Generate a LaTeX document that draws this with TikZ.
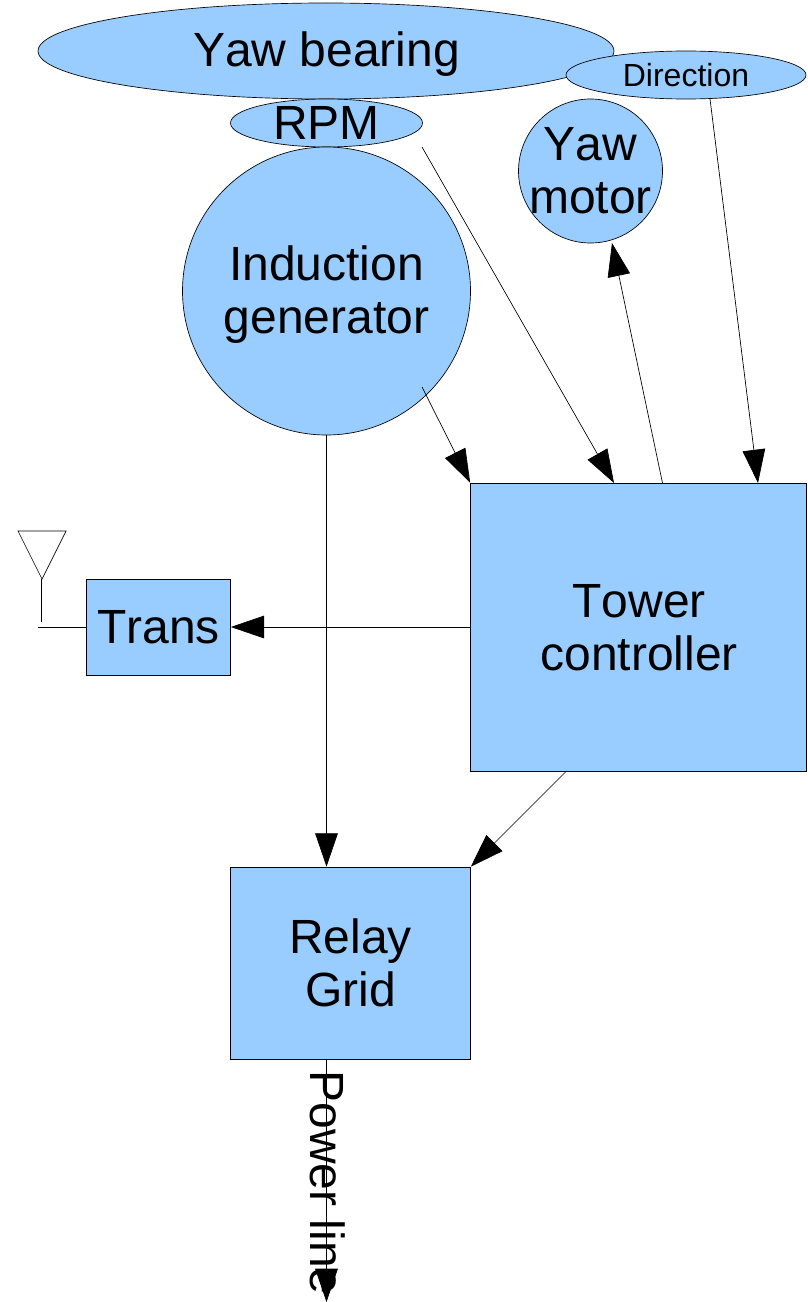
\documentclass[tikz,border=0pt]{standalone}
\usepackage{fontspec}
\setmainfont[Kerning=Off]{Liberation Sans}
\usetikzlibrary{shapes.geometric,arrows.meta}
\definecolor{fillblue}{HTML}{99CCFF}
\tikzset{
  px/.style={x=0.75pt,y=-0.75pt},
  shapebox/.style={draw=black,fill=fillblue,line width=0.5pt,inner sep=0pt},
  elli/.style={shapebox,ellipse},
  circ/.style={shapebox,circle},
  rect/.style={shapebox,rectangle},
  conn/.style={draw=black,line width=0.5pt,-{Triangle[length=25pt,width=17pt,fill=black]}},
  plain/.style={draw=black,line width=0.5pt},
  lab/.style={font=\fontsize{36pt}{40pt}\selectfont,align=center,inner sep=0pt},
  labsmall/.style={font=\fontsize{24pt}{28pt}\selectfont,align=center,inner sep=0pt},
}
\begin{document}
\begin{tikzpicture}[px]
\useasboundingbox (0,0) rectangle (807,1302);
% shapes with their texts
\node[elli,minimum width=432pt,minimum height=72pt,label={[lab,name=yawt,yshift=-2.5pt,xshift=0.5pt]center:Yaw bearing}] (yaw) at (326,51) {};
\node[elli,minimum width=144pt,minimum height=36pt,label={[lab,name=rpmt]center:RPM}] (rpm) at (326.5,123) {};
\node[elli,minimum width=180pt,minimum height=36pt,label={[labsmall,name=dirt]center:Direction}] (dir) at (686,75) {};
\node[circ,minimum size=108pt,label={[lab,name=ymt]center:Yaw\\motor}] (ym) at (590.5,171) {};
\node[circ,minimum size=216pt,label={[lab,name=gent,yshift=-2.5pt]center:Induction\\generator}] (gen) at (326.5,291) {};
\node[rect,minimum width=252pt,minimum height=216pt,label={[lab,name=tct,yshift=-0.5pt,xshift=0.5pt]center:Tower\\controller}] (tc) at (638.5,627) {};
\node[rect,minimum width=108pt,minimum height=72pt,label={[lab,name=trt]center:Trans}] (tr) at (158.5,627) {};
\node[rect,minimum width=180pt,minimum height=144pt,label={[lab,name=rgt]center:Relay\\Grid}] (rg) at (350.5,963) {};
% connector end points
\coordinate (a1) at (422,147);
\coordinate (a2) at (614,483);
\coordinate (b1) at (710,99);
\coordinate (b2) at (758,483);
\coordinate (c1) at (662.5,483);
\coordinate (c2) at (612,243);
\coordinate (d1) at (422,387);
\coordinate (f1) at (566.5,771);
\coordinate (h1) at (326.5,1059);
\coordinate (h2) at (326.5,1302);
\draw[conn] (a1) -- (a2);
\draw[conn] (b1) -- (b2);
\draw[conn] (c1) -- (c2);
\draw[conn] (d1) -- (tc.north west);
\draw[conn] (gen.south) -- (gen.south |- rg.north);
\draw[conn] (f1) -- (rg.north east);
\draw[conn] (tc.west) -- (tr.east);
\draw[conn] (h1) -- (h2);
% antenna
\coordinate (an1) at (18,531);
\coordinate (an2) at (66,531);
\coordinate (an3) at (42,579);
\coordinate (an4) at (41,621.5);
\coordinate (an4t) at (41,579);
\coordinate (an5) at (38,627);
\draw[plain,line join=miter] (an1) -- (an2) -- (an3) -- cycle;
\draw[plain] (an4t) -- (an4);
\draw[plain] (an5) -- (tr.west);
\node[lab,rotate=-90,anchor=center] (pl) at (327.5,1182.5) {Power line};
\end{tikzpicture}
\end{document}
